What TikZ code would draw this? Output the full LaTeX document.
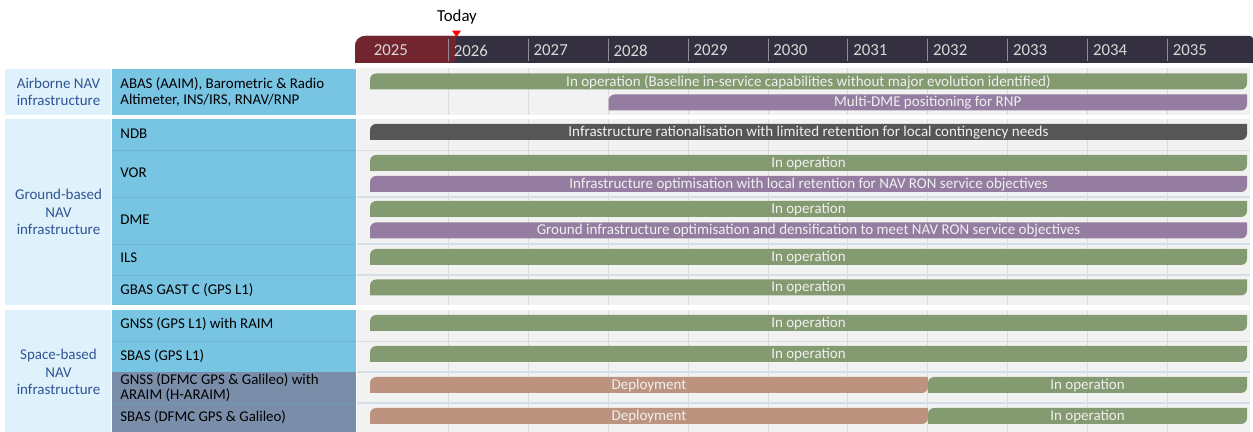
\documentclass[tikz,border=0pt]{standalone}
\usepackage{fontspec}
\setmainfont{Carlito}
\usepackage{tikz,pgffor}
\usetikzlibrary{calc}
\usetikzlibrary{positioning}
\definecolor{hdrdark}{HTML}{35303F}
\definecolor{hdrred}{HTML}{72252F}
\definecolor{grpblue}{HTML}{DFF1FA}
\definecolor{itemblue}{HTML}{78C4E3}
\definecolor{itemslate}{HTML}{7A8EAA}
\definecolor{chartbg}{HTML}{F2F2F2}
\definecolor{gridline}{HTML}{DCDCDC}
\definecolor{rowline}{HTML}{D3DEE6}
\definecolor{opgreen}{HTML}{849A70}
\definecolor{optpurple}{HTML}{947DA1}
\definecolor{depbrown}{HTML}{BB937F}
\definecolor{ndbgray}{HTML}{565656}
\definecolor{grptext}{HTML}{2F5597}
\tikzstyle{bartext} = [
    inner sep=0pt,
    text=white!94!black,
    font=\fontsize{7.5}{8}\selectfont
]
\tikzstyle{yearlab} = [
    anchor=west,
    inner sep=0pt,
    text=white!85!black,
    font=\fontsize{8.4}{9}\selectfont
]
\tikzstyle{grouplab} = [
    inner sep=0pt,
    align=center,
    text=grptext,
    font=\fontsize{7.5}{8.6}\selectfont
]
\tikzstyle{itemlab} = [
    anchor=west,
    inner sep=0pt,
    align=left,
    font=\fontsize{7.45}{7.6}\selectfont
]
% name, x from, x to, top, colour, text
\newcommand{\navbar}[6]{%
\fill[#5] (#2,#4+16) -- (#2,#4+6) arc[start angle=180,end angle=90,radius=3pt]
    -- (#3,#4) -- (#3,#4+10) arc[start angle=0,end angle=-90,radius=3pt] -- cycle;
\node[bartext] (#1) at ({(#2+#3)/2},#4+8.5) {#6};
}

\begin{document}
\begin{tikzpicture}[x=0.5pt, y=-0.5pt]
\useasboundingbox (0,0) rectangle (1253,432);

% header
\fill[hdrdark] (355,63) -- (355,46) arc[start angle=180,end angle=90,radius=5pt]
    -- (1250,36) arc[start angle=90,end angle=0,radius=1.5pt] -- (1253,63) -- cycle;
\fill[hdrred] (355,63) -- (355,46) arc[start angle=180,end angle=90,radius=5pt]
    -- (456,36) -- (456,57) arc[start angle=0,end angle=-90,radius=3pt] -- cycle;
\foreach \k in {0,...,10} {
    \pgfmathtruncatemacro{\yr}{2025+\k}
    \pgfmathsetmacro{\xk}{368.5+79.9*\k}
    \ifnum\k>0 \draw[white!45!hdrdark, line width=0.5pt] (\xk,39) -- (\xk,61); \fi
    \node[yearlab] (y\yr) at (\xk+5,50.5) {\yr};
}
\node[inner sep=0pt, font=\fontsize{8.4}{9}\selectfont] (today) at (457,17) {Today};
\fill[red] ($(today.south)+(-5,6)$) -- ++(9,0) -- ++(-4.5,6.5) -- cycle;

% chart background and grid
\foreach \ya/\yb in {68/115, 119/305, 310/432} {
    \fill[chartbg] (357,\ya) rectangle (1250,\yb);
    \foreach \k in {1,...,10}
        \draw[gridline, line width=0.5pt] ({368.5+79.9*\k},\ya) -- ({368.5+79.9*\k},\yb);
}

% left column
\fill[grpblue] (5,69) rectangle (111,115);
\fill[grpblue] (5,119) rectangle (111,305);
\fill[grpblue] (5,310) rectangle (111,432);
\fill[itemblue] (112,69) rectangle (356,115);
\fill[itemblue] (112,119) rectangle (356,305);
\fill[itemblue] (112,310) rectangle (356,372);
\fill[itemslate] (112,372) rectangle (356,432);

\foreach \yl in {150.5, 197, 244, 275, 341.5, 403} {
    \draw[itemblue!85!black, line width=0.4pt, opacity=0.5] (112,\yl) -- (356,\yl);
    \draw[rowline, line width=0.6pt] (357,\yl) -- (1250,\yl);
}
\draw[rowline, line width=0.6pt] (357,372) -- (1250,372);

\node[grouplab] (airgrp)    at (58.5,92)  {Airborne NAV\\infrastructure};
\node[grouplab] (groundgrp) at (58.5,212) {Ground-based\\NAV\\infrastructure};
\node[grouplab] (spacegrp)  at (58.5,372) {Space-based\\NAV\\infrastructure};

\node[itemlab] (abas)   at (120,92)  {ABAS (AAIM), Barometric \& Radio\\Altimeter, INS/IRS, RNAV/RNP};
\node[itemlab] (ndb)    at (120,134) {NDB};
\node[itemlab] (vor)    at (120,173) {VOR};
\node[itemlab] (dme)    at (120,220) {DME};
\node[itemlab] (ils)    at (120,258) {ILS};
\node[itemlab] (gbas)   at (120,290) {GBAS GAST C (GPS L1)};
\node[itemlab] (gnss)   at (120,324) {GNSS (GPS L1) with RAIM};
\node[itemlab] (sbas)   at (120,356) {SBAS (GPS L1)};
\node[itemlab] (gnssdf) at (120,387.5) {GNSS (DFMC GPS \& Galileo) with\\ARAIM (H-ARAIM)};
\node[itemlab] (sbasdf) at (120,417) {SBAS (DFMC GPS \& Galileo)};

% bars
\navbar{abasop}{370}{1247}{73.5}{opgreen}{In operation (Baseline in-service capabilities without major evolution identified)}
\navbar{abasdme}{608.5}{1247}{94.5}{optpurple}{Multi-DME positioning for RNP}
\navbar{ndbrat}{370}{1247}{124}{ndbgray}{Infrastructure rationalisation with limited retention for local contingency needs}
\navbar{vorop}{370}{1247}{155}{opgreen}{In operation}
\navbar{voropt}{370}{1247}{176}{optpurple}{Infrastructure optimisation with local retention for NAV RON service objectives}
\navbar{dmeop}{370}{1247}{201}{opgreen}{In operation}
\navbar{dmeopt}{370}{1247}{222.5}{optpurple}{Ground infrastructure optimisation and densification to meet NAV RON service objectives}
\navbar{ilsop}{370}{1247}{249}{opgreen}{In operation}
\navbar{gbasop}{370}{1247}{279.5}{opgreen}{In operation}
\navbar{gnssop}{370}{1247}{315}{opgreen}{In operation}
\navbar{sbasop}{370}{1247}{346}{opgreen}{In operation}
\navbar{gnssdep}{370}{928}{377}{depbrown}{Deployment}
\navbar{gnssdfop}{928}{1247}{377}{opgreen}{In operation}
\navbar{sbasdep}{370}{928}{408}{depbrown}{Deployment}
\navbar{sbasdfop}{928}{1247}{408}{opgreen}{In operation}
\end{tikzpicture}
\end{document}
